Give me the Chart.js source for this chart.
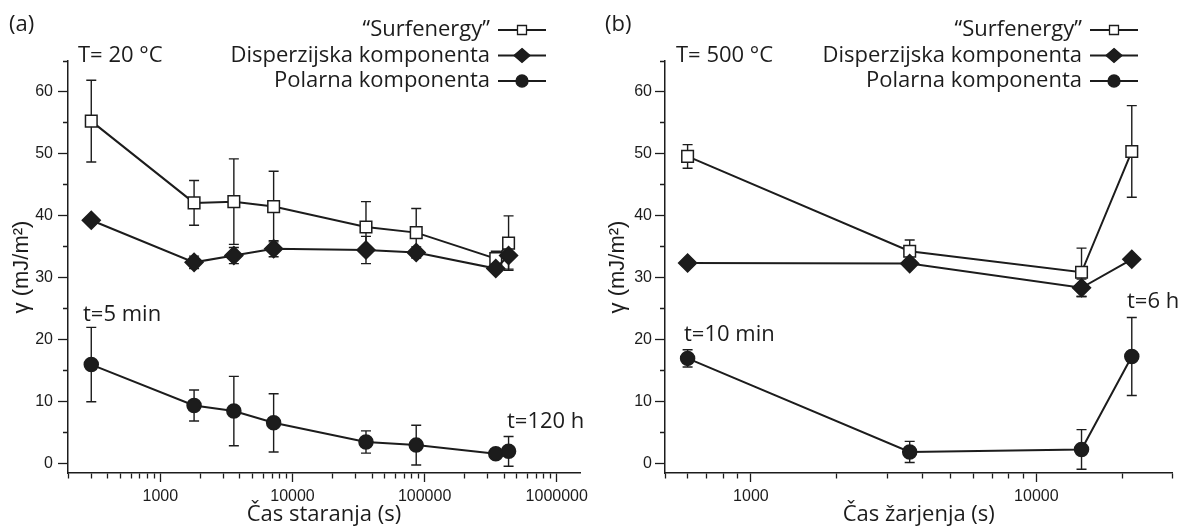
<!DOCTYPE html>
<html>
<head>
<meta charset="utf-8">
<title>Površinska energija – staranje in žarjenje</title>
<script src="https://cdn.jsdelivr.net/npm/chart.js@4.4.1/dist/chart.umd.min.js"></script>
<style>
  html, body { margin: 0; padding: 0; background: #fff; }
  body { width: 1183px; height: 526px; position: relative; overflow: hidden; }
  canvas { position: absolute; top: 0; }
  #chartA { left: 0; }
  #chartB { left: 600px; }
</style>
</head>
<body>
<canvas id="chartA" width="600" height="526"></canvas>
<canvas id="chartB" width="583" height="526"></canvas>
<script>
/* ==========================================
   Data
========================================== */

const seriesNames = ["“Surfenergy”", "Disperzijska komponenta", "Polarna komponenta"];

// (a) staranje pri 20 °C
const agingTime = [300, 1800, 3600, 7200, 36000, 86400, 345600, 432000];
const agingSurf = [55.3, 42.1, 42.3, 41.5, 38.2, 37.3, 33.1, 35.6];
const agingSurfErr = [6.6, 3.6, 6.9, 5.7, 4.1, 3.9, 1.2, 4.4];
const agingDisp = [39.3, 32.5, 33.6, 34.7, 34.5, 34.1, 31.5, 33.6];
const agingDispErr = [0.3, 1.0, 1.3, 1.3, 2.2, 0.9, 0.5, 2.2];
const agingPol = [16.0, 9.4, 8.5, 6.6, 3.5, 3.0, 1.6, 2.0];
const agingPolErr = [6.0, 2.5, 5.6, 4.7, 1.8, 3.2, 0.3, 2.4];
const agingDecades = [1000, 10000, 100000, 1000000];

// (b) žarjenje pri 500 °C
const annealTime = [600, 3600, 14400, 21600];
const annealSurf = [49.6, 34.3, 30.9, 50.4];
const annealSurfErr = [1.9, 1.8, 3.9, 7.4];
const annealDisp = [32.4, 32.3, 28.4, 33.0];
const annealDispErr = [0.3, 0.3, 1.4, 0.3];
const annealPol = [17.0, 1.9, 2.3, 17.3];
const annealPolErr = [1.4, 1.7, 3.2, 6.3];
const annealDecades = [1000, 10000];

const yLabels = [0, 10, 20, 30, 40, 50, 60];

/* ==========================================
   Helpers
========================================== */

const INK = "#1c1c1c";
const TEXT_FONT = "Open Sans";
Chart.defaults.font.family = "Liberation Sans";
Chart.defaults.color = INK;

function logTicks(min, max) {
  const out = [];
  for (let d = 1; d <= max; d *= 10) {
    for (let m = 1; m <= 9; m++) {
      const v = d * m;
      if (v >= min && v <= max) out.push(v);
    }
  }
  return out;
}

function series(xs, ys, errs, style) {
  return {
    data: xs.map((x, i) => ({ x, y: ys[i] })),
    errors: errs,
    borderColor: INK,
    borderWidth: 2,
    pointBorderColor: INK,
    pointBorderWidth: 1.5,
    ...style,
  };
}

function markerPath(ctx, kind, x, y) {
  ctx.beginPath();
  if (kind === "square") ctx.rect(x - 4.5, y - 4.5, 9, 9);
  else if (kind === "diamond") {
    ctx.moveTo(x, y - 7); ctx.lineTo(x + 8, y); ctx.lineTo(x, y + 7); ctx.lineTo(x - 8, y); ctx.closePath();
  } else ctx.arc(x, y, 6, 0, Math.PI * 2);
}

const errorBars = {
  id: "errorBars",
  beforeDatasetsDraw(chart) {
    const { ctx, scales: { x, y } } = chart;
    ctx.save();
    ctx.strokeStyle = INK;
    ctx.lineWidth = 1.4;
    chart.data.datasets.forEach((ds) => {
      ds.errors.forEach((e, i) => {
        const px = x.getPixelForValue(ds.data[i].x);
        const top = y.getPixelForValue(ds.data[i].y + e);
        const bot = y.getPixelForValue(ds.data[i].y - e);
        ctx.beginPath();
        ctx.moveTo(px, top); ctx.lineTo(px, bot);
        ctx.moveTo(px - 5, top); ctx.lineTo(px + 5, top);
        ctx.moveTo(px - 5, bot); ctx.lineTo(px + 5, bot);
        ctx.stroke();
      });
    });
    ctx.restore();
  },
};

function panelDecor(setup) {
  return {
    id: "panelDecor",
    afterDraw(chart) {
      const { ctx } = chart;
      ctx.save();
      ctx.fillStyle = INK;
      ctx.textBaseline = "middle";

      ctx.font = `22px '${TEXT_FONT}'`;
      ctx.textAlign = "left";
      ctx.fillText(setup.tag, setup.tagX, 25);
      ctx.font = `22px '${TEXT_FONT}'`;
      ctx.fillText(setup.temp, setup.tempX, 56);

      // legend: text right-aligned, marker on the right
      const kinds = ["square", "diamond", "circle"];
      ctx.font = `22px '${TEXT_FONT}'`;
      seriesNames.forEach((name, i) => {
        const rowY = 30 + i * 25.5;
        ctx.textAlign = "right";
        ctx.fillStyle = INK;
        ctx.fillText(name, setup.legendEnd, rowY);
        const mx = setup.legendEnd + 32;
        ctx.strokeStyle = INK;
        ctx.lineWidth = 2;
        ctx.beginPath();
        ctx.moveTo(mx - 24, rowY); ctx.lineTo(mx + 24, rowY);
        ctx.stroke();
        markerPath(ctx, kinds[i], mx, rowY);
        ctx.fillStyle = i === 0 ? "#fff" : INK;
        ctx.fill();
        ctx.lineWidth = 1.3;
        ctx.stroke();
      });

      ctx.fillStyle = INK;
      ctx.textAlign = "left";
      ctx.font = `22px '${TEXT_FONT}'`;
      setup.notes.forEach((n) => ctx.fillText(n.text, n.x, n.y));
      ctx.restore();
    },
  };
}

function makeChart(canvasId, setup) {
  const { times, surf, surfErr, disp, dispErr, pol, polErr, decades } = setup;
  return new Chart(document.getElementById(canvasId), {
    type: "line",
    data: {
      datasets: [
        series(times, disp, dispErr, { pointStyle: "rectRot", pointRadius: 9, pointBackgroundColor: INK }),
        series(times, surf, surfErr, { pointStyle: "rect", pointRadius: 8.2, pointBackgroundColor: "#fff" }),
        series(times, pol, polErr, { pointStyle: "circle", pointRadius: 7, pointBackgroundColor: INK }),
      ],
    },
    options: {
      responsive: false,
      animation: false,
      layout: { padding: { top: 61, right: setup.padRight, left: 0, bottom: 0 } },
      plugins: { legend: { display: false }, tooltip: { enabled: false } },
      scales: {
        x: {
          type: "logarithmic",
          min: setup.xMin,
          max: setup.xMax,
          afterBuildTicks: (s) => {
            s.ticks = logTicks(setup.xMin, setup.xMax).map((v) => ({ value: v, major: decades.includes(v) }));
          },
          afterFit: (s) => { s.height = 53; },
          border: { color: INK, width: 1.5 },
          grid: {
            drawOnChartArea: false,
            tickLength: 9,
            tickColor: INK,
            tickWidth: 1.3,
            tickBorderDash: (c) => (c.tick && decades.includes(c.tick.value) ? [] : [5, 100]),
          },
          ticks: {
            autoSkip: false,
            maxRotation: 0,
            padding: 5,
            color: INK,
            font: { size: 16 },
            callback: (v) => (decades.includes(v) ? String(v) : ""),
          },
          title: {
            display: true,
            text: setup.xTitle,
            color: INK,
            font: { family: TEXT_FONT, size: 22, lineHeight: 1 },
            padding: 0,
          },
        },
        y: {
          min: -1.5,
          max: 65,
          afterFit: (s) => { s.width = setup.yWidth; },
          border: { color: INK, width: 1.5 },
          grid: {
            drawOnChartArea: false,
            tickLength: 10,
            tickColor: INK,
            tickWidth: 1.3,
            tickBorderDash: (c) => (c.tick && yLabels.includes(c.tick.value) ? [] : [0, 5, 5, 100]),
          },
          ticks: {
            stepSize: 5,
            includeBounds: false,
            padding: setup.yPad,
            color: INK,
            font: { size: 16 },
            callback: (v) => (yLabels.includes(v) ? String(v) : ""),
          },
          title: {
            display: true,
            text: "γ (mJ/m²)",
            color: INK,
            font: { size: 22, lineHeight: 1 },
            padding: { top: setup.yTitlePad, bottom: 0 },
          },
        },
      },
    },
    plugins: [errorBars, panelDecor(setup)],
  });
}

/* ==========================================
   Panels
========================================== */

makeChart("chartA", {
  times: agingTime, surf: agingSurf, surfErr: agingSurfErr, disp: agingDisp, dispErr: agingDispErr,
  pol: agingPol, polErr: agingPolErr, decades: agingDecades,
  xMin: 200, xMax: 1500000, xTitle: "Čas staranja (s)",
  padRight: 20, yWidth: 68, yPad: 5, yTitlePad: 11,
  tag: "(a)", tagX: 9, temp: "T= 20 °C", tempX: 78, legendEnd: 490,
  notes: [{ text: "t=5 min", x: 83, y: 315 }, { text: "t=120 h", x: 507, y: 422 }],
});

makeChart("chartB", {
  times: annealTime, surf: annealSurf, surfErr: annealSurfErr, disp: annealDisp, dispErr: annealDispErr,
  pol: annealPol, polErr: annealPolErr, decades: annealDecades,
  xMin: 500, xMax: 30000, xTitle: "Čas žarjenja (s)",
  padRight: 3, yWidth: 65, yPad: 3, yTitlePad: 7,
  tag: "(b)", tagX: 5, temp: "T= 500 °C", tempX: 76, legendEnd: 482,
  notes: [{ text: "t=10 min", x: 84, y: 335 }, { text: "t=6 h", x: 527, y: 302 }],
});
</script>
</body>
</html>
